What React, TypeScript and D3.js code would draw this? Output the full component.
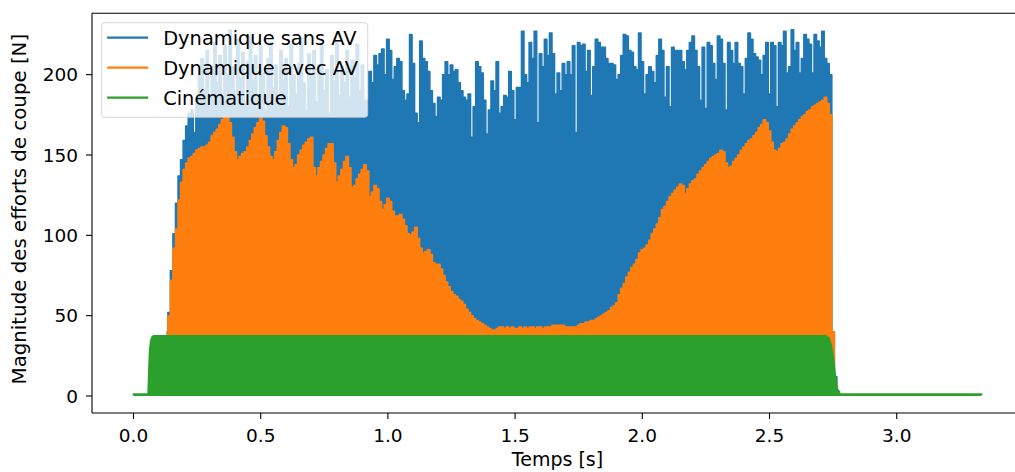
import React from "react";
import * as d3 from "d3";

const W = 1015;
const H = 472;

const xTicks = [0, 0.5, 1, 1.5, 2, 2.5, 3];
const xTickLabels = ["0.0", "0.5", "1.0", "1.5", "2.0", "2.5", "3.0"];
const yTicks = [0, 50, 100, 150, 200];
const yTickLabels = ["0", "50", "100", "150", "200"];
const seriesNames = ["Dynamique sans AV", "Dynamique avec AV", "Cinématique"];
const colors = ["#1f77b4", "#ff7f0e", "#2ca02c"];

// sampling grid of the envelopes (seconds)
const sampleStart = 0.13;
const sampleStep = 0.01;

// upper envelope of "Dynamique sans AV" [N]
const blueValues = [
  40, 52, 78, 101, 120, 137, 147, 159, 168, 176,
  178, 164, 186, 200, 210, 190, 215, 180, 205, 220,
  195, 212, 185, 218, 200, 228, 205, 190, 222, 198,
  214, 182, 208, 224, 196, 212, 188, 218, 201, 178,
  210, 220, 192, 206, 185, 215, 197, 210, 180, 219,
  200, 188, 207, 223, 195, 178, 213, 199, 215, 183,
  206, 218, 190, 203, 176, 212, 196, 221, 187, 205,
  195, 215, 186, 209, 198, 219, 190, 206, 184, 184,
  202, 195, 212, 206, 213, 216, 200, 222, 215, 197,
  205, 210, 208, 190, 184, 188, 225, 207, 176, 170,
  221, 210, 208, 202, 190, 182, 174, 186, 184, 200,
  208, 200, 206, 202, 203, 195, 190, 186, 184, 188,
  161, 180, 208, 205, 201, 184, 163, 178, 196, 190,
  208, 176, 180, 187, 186, 202, 190, 172, 192, 192,
  227, 200, 195, 220, 210, 227, 170, 213, 205, 222,
  212, 226, 213, 188, 201, 190, 207, 200, 208, 200,
  218, 164, 220, 218, 219, 202, 215, 187, 205, 222,
  220, 217, 217, 210, 207, 207, 206, 197, 200, 212,
  225, 224, 215, 214, 205, 203, 226, 208, 188, 200,
  205, 202, 195, 212, 222, 215, 186, 205, 180, 217,
  215, 215, 215, 208, 203, 215, 220, 224, 215, 205,
  184, 217, 179, 220, 218, 207, 197, 224, 222, 207,
  178, 220, 215, 207, 220, 207, 205, 188, 210, 226,
  222, 213, 211, 209, 200, 212, 220, 188, 220, 218,
  180, 220, 218, 227, 201, 205, 228, 215, 220, 201,
  210, 225, 222, 219, 201, 225, 221, 217, 227, 210,
  207, 200, 40, 12, 3, 1,
];

// upper envelope of "Dynamique avec AV" [N]
const orangeValues = [
  39, 50, 72, 92, 104, 122, 133, 141, 145, 148,
  149, 151, 153, 154, 155, 155, 156, 158, 162, 164,
  166, 169, 172, 174, 174, 170, 161, 152, 147, 149,
  151, 152, 155, 159, 163, 167, 170, 173, 171, 162,
  155, 149, 147, 152, 159, 164, 168, 167, 157, 147,
  142, 144, 150, 153, 156, 158, 160, 161, 142, 137,
  142, 146, 150, 154, 157, 157, 145, 133, 137, 141,
  146, 149, 142, 130, 131, 135, 138, 141, 144, 140,
  124, 127, 131, 129, 121, 116, 119, 123, 121, 115,
  112, 112, 113, 110, 106, 101, 100, 102, 105, 98,
  92, 89, 90, 91, 88, 83, 82, 82, 79, 75,
  71, 68, 65, 63, 62, 60, 59, 57, 54, 52,
  50, 48, 47, 46, 45, 44, 43, 42, 41, 41,
  42, 43, 43, 42, 43, 42, 43, 42, 42, 43,
  42, 43, 42, 43, 43, 42, 43, 43, 42, 43,
  43, 43, 44, 44, 44, 44, 44, 43, 43, 43,
  43, 43, 44, 45, 45, 46, 46, 47, 47, 48,
  49, 50, 51, 52, 53, 55, 56, 58, 63, 67,
  70, 74, 77, 80, 82, 85, 89, 91, 92, 94,
  97, 101, 104, 107, 111, 116, 118, 121, 124, 126,
  128, 130, 132, 131, 126, 129, 132, 134, 135, 138,
  140, 142, 144, 146, 148, 149, 150, 151, 153, 152,
  145, 142, 143, 146, 148, 150, 153, 155, 157, 159,
  160, 162, 164, 167, 169, 172, 170, 165, 158, 153,
  152, 154, 157, 158, 160, 163, 166, 168, 170, 172,
  174, 175, 177, 178, 180, 181, 182, 183, 184, 186,
  182, 175, 40, 8, 2, 1,
];

// "Cinématique" envelope
const greenTimes = [0, 0.058, 0.061, 0.064, 0.068, 0.073, 0.08, 2.72, 2.733, 2.743, 2.75, 2.757, 2.765, 2.775, 3.333];
const greenValues = [1, 1, 15, 28, 34, 36.5, 37.4, 37.4, 36, 31, 24, 14, 5, 1, 1];

const FONT = "'DejaVu Sans', 'Liberation Sans', sans-serif";

export default function App() {
  const x = d3.scaleLinear().domain([-0.1631, 3.4964]).range([92, 1023]);
  const y = d3.scaleLinear().domain([-10.6, 238.2]).range([413, 13.3]);

  const gridPts = (vals: number[]) =>
    vals.map((v, i) => [sampleStart + i * sampleStep, v] as [number, number]);
  const bluePts = gridPts(blueValues);
  const orangePts = gridPts(orangeValues);
  const greenPts = greenTimes.map((t, i) => [t, greenValues[i]] as [number, number]);

  const areaStep = d3
    .area<[number, number]>()
    .x((d) => x(d[0]))
    .y0(y(0))
    .y1((d) => y(d[1]))
    .curve(d3.curveStep);
  const lineStep = d3
    .line<[number, number]>()
    .x((d) => x(d[0]))
    .y((d) => y(d[1]))
    .curve(d3.curveStep);
  const areaLin = d3
    .area<[number, number]>()
    .x((d) => x(d[0]))
    .y0(y(0))
    .y1((d) => y(d[1]));
  const lineLin = d3
    .line<[number, number]>()
    .x((d) => x(d[0]))
    .y((d) => y(d[1]));

  const [xL, xR] = x.range();
  const [yB, yT] = y.range();

  const legendX = 101.7;
  const legendY = 22.7;
  const rowGap = 30;

  return (
    <svg
      width={W}
      height={H}
      viewBox={`0 0 ${W} ${H}`}
      style={{ position: "fixed", left: 0, top: 0, background: "#fff" }}
      fontFamily={FONT}
    >
      <defs>
        <clipPath id="plot">
          <rect x={xL} y={yT} width={xR - xL} height={yB - yT} />
        </clipPath>
      </defs>
      <rect x={0} y={0} width={W} height={H} fill="#fff" />
      <g clipPath="url(#plot)">
        <path d={areaStep(bluePts) || ""} fill={colors[0]} />
        <path d={lineStep(bluePts) || ""} fill="none" stroke={colors[0]} strokeWidth={1.5} strokeLinejoin="round" />
        <path d={areaStep(orangePts) || ""} fill={colors[1]} />
        <path d={lineStep(orangePts) || ""} fill="none" stroke={colors[1]} strokeWidth={1.5} strokeLinejoin="round" />
        <path d={areaLin(greenPts) || ""} fill={colors[2]} />
        <path d={lineLin(greenPts) || ""} fill="none" stroke={colors[2]} strokeWidth={2} strokeLinejoin="round" strokeLinecap="round" />
      </g>

      {/* spines */}
      <line x1={xL} x2={xL} y1={yT} y2={yB} stroke="#000" strokeWidth={1.1} />
      <line x1={xL} x2={W} y1={yB} y2={yB} stroke="#000" strokeWidth={1.1} />
      <line x1={xL} x2={W} y1={yT} y2={yT} stroke="#000" strokeWidth={1.1} />

      {/* x ticks */}
      {xTicks.map((t, i) => (
        <g key={"xt" + i}>
          <line x1={x(t)} x2={x(t)} y1={yB} y2={yB + 6} stroke="#000" strokeWidth={1.1} />
          <text x={x(t)} y={442} textAnchor="middle" fontSize={18.5} fill="#000">
            {xTickLabels[i]}
          </text>
        </g>
      ))}
      {/* y ticks */}
      {yTicks.map((v, i) => (
        <g key={"yt" + i}>
          <line x1={xL - 6} x2={xL} y1={y(v)} y2={y(v)} stroke="#000" strokeWidth={1.1} />
          <text x={78} y={y(v)} dy="0.36em" textAnchor="end" fontSize={18.5} fill="#000">
            {yTickLabels[i]}
          </text>
        </g>
      ))}

      <text x={(xL + xR) / 2} y={466} textAnchor="middle" fontSize={19} fill="#000">
        Temps [s]
      </text>
      <text
        transform={`translate(26, ${(yT + yB) / 2 - 4}) rotate(-90)`}
        textAnchor="middle"
        fontSize={19.8}
        fill="#000"
      >
        Magnitude des efforts de coupe [N]
      </text>

      {/* legend */}
      <rect
        x={legendX}
        y={legendY}
        width={266}
        height={94.6}
        rx={3}
        fill="#fff"
        fillOpacity={0.8}
        stroke="#cccccc"
        strokeOpacity={0.8}
        strokeWidth={1}
      />
      {seriesNames.map((name, i) => (
        <g key={"lg" + i}>
          <line
            x1={legendX + 5.5}
            x2={legendX + 46.5}
            y1={legendY + 15 + i * rowGap}
            y2={legendY + 15 + i * rowGap}
            stroke={colors[i]}
            strokeWidth={2.2}
          />
          <text x={legendX + 61.5} y={legendY + 15 + i * rowGap} dy="0.36em" fontSize={19.4} fill="#000">
            {name}
          </text>
        </g>
      ))}
    </svg>
  );
}
